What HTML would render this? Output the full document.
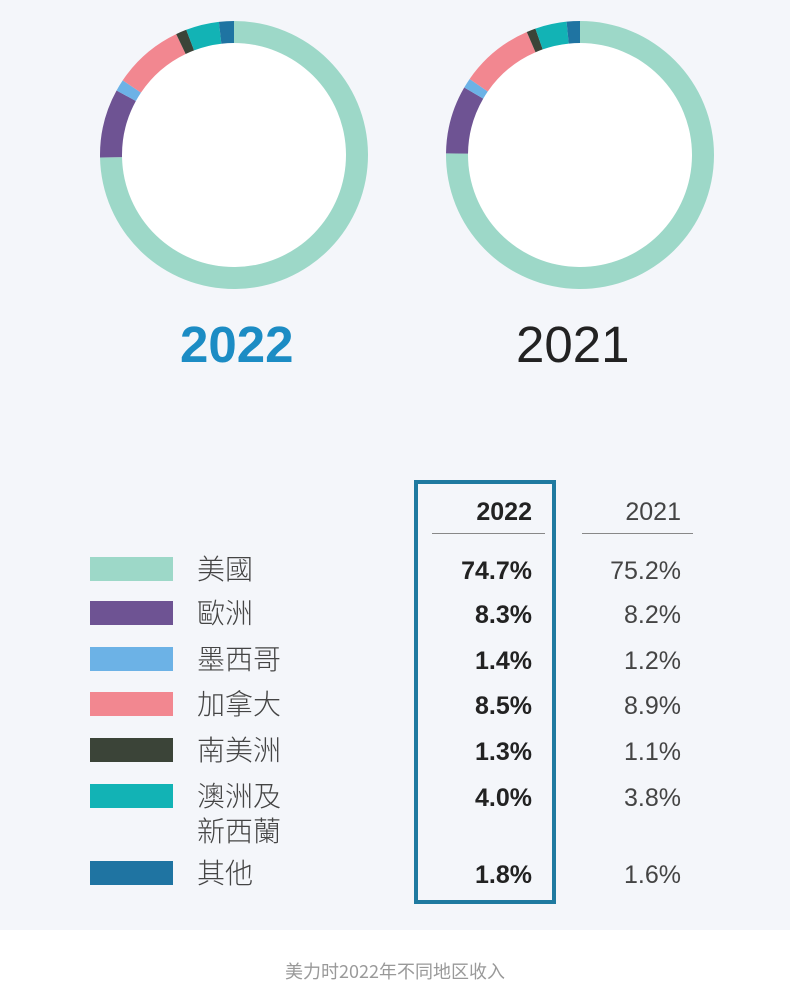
<!DOCTYPE html>
<html><head><meta charset="utf-8"><style>
body{margin:0;width:790px;height:993px;background:#fff;font-family:"Liberation Sans","Noto Sans CJK TC",sans-serif;position:relative;overflow:hidden}
#bg{position:absolute;left:0;top:0;width:790px;height:930px;background:#f4f6fa}
.sw{position:absolute;left:90px;width:83px;height:24px}
.lb{position:absolute;left:197px;font-size:28px;color:#444;line-height:32px;font-family:"Noto Sans CJK TC",sans-serif;font-weight:300}
.v{position:absolute;font-size:25px;line-height:30px;text-align:right;width:120px}
.a{left:412px;font-weight:bold;color:#222}
.b{left:561px;color:#444}
</style></head><body>
<div id="bg"></div>
<svg id="chart" width="790" height="480" style="position:absolute;left:0;top:0"></svg>
<div style="position:absolute;left:180px;top:315px;font-size:51px;font-weight:bold;color:#1c8cc4">2022</div>
<div style="position:absolute;left:516px;top:315px;font-size:51px;color:#222">2021</div>
<div style="position:absolute;left:414px;top:480px;width:142px;height:424px;border:4px solid #1f7aa0;box-sizing:border-box"></div>
<div class="v a" style="top:497px">2022</div>
<div class="v b" style="top:497px;">2021</div>
<div style="position:absolute;left:432px;top:533px;width:113px;height:1px;background:#888"></div>
<div style="position:absolute;left:582px;top:533px;width:111px;height:1px;background:#888"></div>
<div id="legend"></div>
<div style="position:absolute;left:0;top:958px;width:790px;text-align:center;font-size:18px;color:#999;font-family:'Noto Sans CJK SC',sans-serif">美力时2022年不同地区收入</div>
<script>
const regions=["美國","歐洲","墨西哥","加拿大","南美洲","澳洲及\n新西蘭","其他"];
const colors=["#9dd8c8","#6e5393","#6cb2e6","#f28790","#3b4438","#12b3b5","#1f74a2"];
const values2022=[74.7,8.3,1.4,8.5,1.3,4.0,1.8];
const values2021=[75.2,8.2,1.2,8.9,1.1,3.8,1.6];
const rowTops=[557,601,647,692,738,784,861];
const svg=document.getElementById('chart');
const NS="http://www.w3.org/2000/svg";
function arcPath(cx,cy,r0,r1,a0,a1){
 const p=(r,a)=>[cx+r*Math.sin(a),cy-r*Math.cos(a)];
 const L=(a1-a0)>Math.PI?1:0;
 const [x0,y0]=p(r1,a0),[x1,y1]=p(r1,a1),[x2,y2]=p(r0,a1),[x3,y3]=p(r0,a0);
 return `M${x0},${y0}A${r1},${r1} 0 ${L} 1 ${x1},${y1}L${x2},${y2}A${r0},${r0} 0 ${L} 0 ${x3},${y3}Z`;
}
function donut(vals,cx,cy,name){
 const tot=vals.reduce((a,b)=>a+b,0);let a=0;
 const c=document.createElementNS(NS,'circle');
 c.setAttribute('cx',cx);c.setAttribute('cy',cy);c.setAttribute('r',112);c.setAttribute('fill','#fff');
 
 
 svg.appendChild(c);
 vals.forEach((v,i)=>{
  const a1=a+v/tot*2*Math.PI;
  const p=document.createElementNS(NS,'path');
  p.setAttribute('d',arcPath(cx,cy,112,134,a,a1));p.setAttribute('fill',colors[i]);
  
  
  svg.appendChild(p);a=a1;
 });
}
donut(values2022,234,155,'donut-2022');
donut(values2021,580,155,'donut-2021');
const lg=document.getElementById('legend');
regions.forEach((r,i)=>{
 const s=document.createElement('div');s.className='sw';s.style.top=rowTops[i]+'px';s.style.background=colors[i];
 
 
 lg.appendChild(s);
 const l=document.createElement('div');l.className='lb';l.style.top=(rowTops[i]-5)+'px';l.innerHTML=r.replace('\n','<br>');
 if(r.includes('\n')){l.style.lineHeight='35px';l.style.top=(rowTops[i]-6)+'px';}
 
 
 lg.appendChild(l);
 const a=document.createElement('div');a.className='v a';a.style.top=(rowTops[i]-1)+'px';a.textContent=values2022[i].toFixed(1)+'%';
 
 
 lg.appendChild(a);
 const b=document.createElement('div');b.className='v b';b.style.top=(rowTops[i]-1)+'px';b.textContent=values2021[i].toFixed(1)+'%';
 
 
 lg.appendChild(b);
});
</script>
</body></html>
